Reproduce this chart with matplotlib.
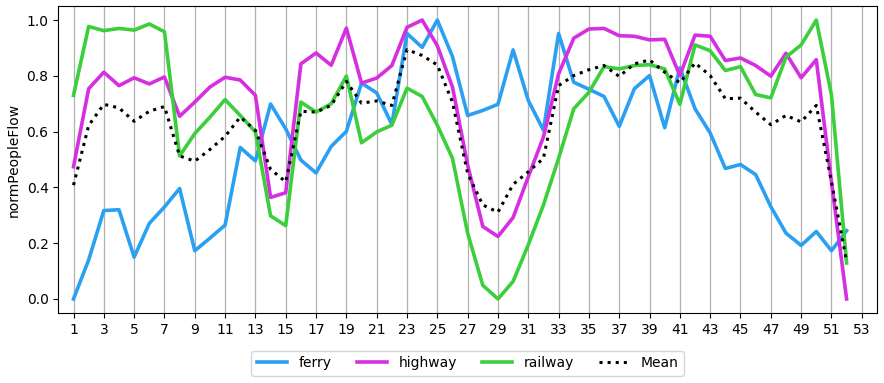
import matplotlib
matplotlib.use("Agg")
import matplotlib.pyplot as plt

# week index
weeks = list(range(1, 53))

ferry = [0.0, 0.14, 0.317, 0.32, 0.15, 0.271, 0.33, 0.396, 0.173, 0.218,
         0.265, 0.543, 0.495, 0.699, 0.61, 0.498, 0.452, 0.547, 0.601, 0.774,
         0.739, 0.626, 0.952, 0.902, 1.0, 0.869, 0.658, 0.676, 0.698, 0.893,
         0.712, 0.605, 0.952, 0.777, 0.752, 0.726, 0.619, 0.754, 0.801, 0.614,
         0.829, 0.682, 0.595, 0.468, 0.482, 0.446, 0.331, 0.236, 0.192, 0.242,
         0.173, 0.245]

highway = [0.474, 0.754, 0.813, 0.765, 0.793, 0.771, 0.796, 0.655, 0.706, 0.76,
           0.795, 0.785, 0.73, 0.364, 0.381, 0.843, 0.882, 0.838, 0.971, 0.774,
           0.792, 0.837, 0.974, 1.0, 0.908, 0.76, 0.48, 0.26, 0.224, 0.292,
           0.438, 0.581, 0.807, 0.935, 0.968, 0.97, 0.944, 0.942, 0.929, 0.931,
           0.801, 0.946, 0.942, 0.855, 0.864, 0.837, 0.799, 0.881, 0.793, 0.858,
           0.42, 0.0]

railway = [0.73, 0.977, 0.962, 0.97, 0.964, 0.986, 0.958, 0.513, 0.593, 0.652,
           0.715, 0.658, 0.599, 0.298, 0.263, 0.706, 0.67, 0.7, 0.799, 0.56,
           0.599, 0.623, 0.756, 0.726, 0.623, 0.504, 0.236, 0.049, 0.0, 0.063,
           0.194, 0.337, 0.504, 0.682, 0.741, 0.833, 0.825, 0.837, 0.84, 0.825,
           0.698, 0.911, 0.89, 0.819, 0.833, 0.733, 0.721, 0.867, 0.911, 1.0,
           0.732, 0.129]

mean = [0.408, 0.622, 0.698, 0.685, 0.637, 0.673, 0.69, 0.513, 0.494, 0.536,
        0.583, 0.652, 0.605, 0.465, 0.42, 0.673, 0.67, 0.694, 0.78, 0.702,
        0.71, 0.694, 0.894, 0.873, 0.839, 0.706, 0.45, 0.337, 0.311, 0.411,
        0.456, 0.504, 0.765, 0.801, 0.822, 0.837, 0.798, 0.843, 0.857, 0.813,
        0.775, 0.846, 0.801, 0.718, 0.72, 0.67, 0.625, 0.658, 0.635, 0.694,
        0.42, 0.135]

xticks = list(range(1, 54, 2))

fig, ax = plt.subplots(figsize=(8.84, 3.83), dpi=100)
fig.subplots_adjust(left=0.066, right=0.992, top=0.984, bottom=0.183)

ax.plot(weeks, ferry, color="#2aa0f2", lw=2.6, label="ferry")
ax.plot(weeks, highway, color="#d62fe2", lw=2.6, label="highway")
ax.plot(weeks, railway, color="#3ccf3c", lw=2.6, label="railway")
ax.plot(weeks, mean, color="black", lw=2.2, ls=":", label="Mean")

ax.set_xticks(xticks)
ax.set_xlim(0, 54)
ax.set_ylim(-0.05, 1.05)
ax.set_ylabel("normPeopleFlow")
ax.grid(True, axis="x", color="#b0b0b0", lw=0.9)
ax.set_axisbelow(True)

ax.legend(loc="upper center", bbox_to_anchor=(0.5, -0.1), ncol=4,
          handlelength=2.2, columnspacing=1.8)

fig.savefig("out.png", dpi=100)
